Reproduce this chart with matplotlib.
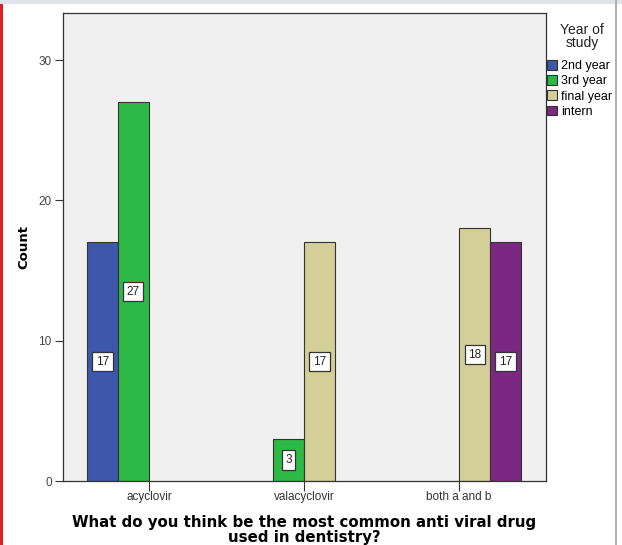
import matplotlib.pyplot as plt
import matplotlib.patches as mpatches
import numpy as np

plt.rcParams['font.family'] = ['Liberation Sans', 'DejaVu Sans']

categories = ["acyclovir", "valacyclovir", "both a and b"]
groups = ["2nd year", "3rd year", "final year", "intern"]
# counts per group, one value per category (0 = no bar)
counts = {
    "2nd year": [17, 0, 0],
    "3rd year": [27, 3, 0],
    "final year": [0, 17, 18],
    "intern": [0, 0, 17],
}
colors = ["#3d57ab", "#2db946", "#d4cf98", "#7a2881"]

fig = plt.figure(figsize=(6.22, 5.45), dpi=100)
ax = fig.add_axes([0.101, 0.1174, 0.777, 0.8587])
ax.set_facecolor("#f0f0f0")

x = np.arange(len(categories))
width = 0.2
offsets = [-0.3, -0.1, 0.1, 0.3]

for g, col, off in zip(groups, colors, offsets):
    vals = np.array(counts[g])
    for xi, v in zip(x, vals):
        if v <= 0:
            continue
        ax.bar(xi + off, v, width, color=col, edgecolor="#333333", linewidth=0.8)
        ax.text(xi + off, v / 2, str(v), ha="center", va="center", fontsize=8.5,
                color="#222222",
                bbox=dict(boxstyle="square,pad=0.3", fc="white", ec="#333333", lw=0.9))

ax.set_xlim(-0.555, 2.561)
ax.set_ylim(0, 33.35)
ax.set_yticks([0, 10, 20, 30])
ax.set_xticks(x)
ax.set_xticklabels(categories, fontsize=8.5, color="#333333")
ax.tick_params(axis="y", labelsize=8.5, labelcolor="#444444", length=6, width=0.8,
               color="#333333", pad=2)
ax.tick_params(axis="x", length=7, width=0.8, color="#333333", pad=0)
for s in ax.spines.values():
    s.set_color("#333333")
    s.set_linewidth(0.9)

ax.set_ylabel("Count", fontsize=9.5, fontweight="bold", labelpad=6, family="DejaVu Sans")
ax.set_xlabel("What do you think be the most common anti viral drug\nused in dentistry?",
              fontsize=10.8, fontweight="bold", labelpad=9, linespacing=1.0,
              family="DejaVu Sans")

# legend title drawn on its own so it can sit a little above the entries
fig.text(0.936, 0.933, "Year of\nstudy", ha="center", va="center", fontsize=10,
         linespacing=0.9, color="#222222")
handles = [mpatches.Patch(facecolor=c, edgecolor="#333333", lw=0.8) for c in colors]
fig.legend(handles, groups, loc="upper left", bbox_to_anchor=(0.880, 0.890),
           frameon=False, fontsize=9, handlelength=0.8, handleheight=0.8,
           handletextpad=0.3, labelspacing=0.25, borderaxespad=0, borderpad=0)

# window edges around the chart
fig.add_artist(mpatches.Rectangle((0, 0), 0.005, 1, transform=fig.transFigure,
                                  color="#e02020", lw=0))
fig.add_artist(mpatches.Rectangle((0, 0.992), 1, 0.008, transform=fig.transFigure,
                                  color="#dde3ea", lw=0))
fig.add_artist(mpatches.Rectangle((0.989, 0), 0.003, 1, transform=fig.transFigure,
                                  color="#b0b0b0", lw=0))

fig.savefig("out.png", dpi=100)
